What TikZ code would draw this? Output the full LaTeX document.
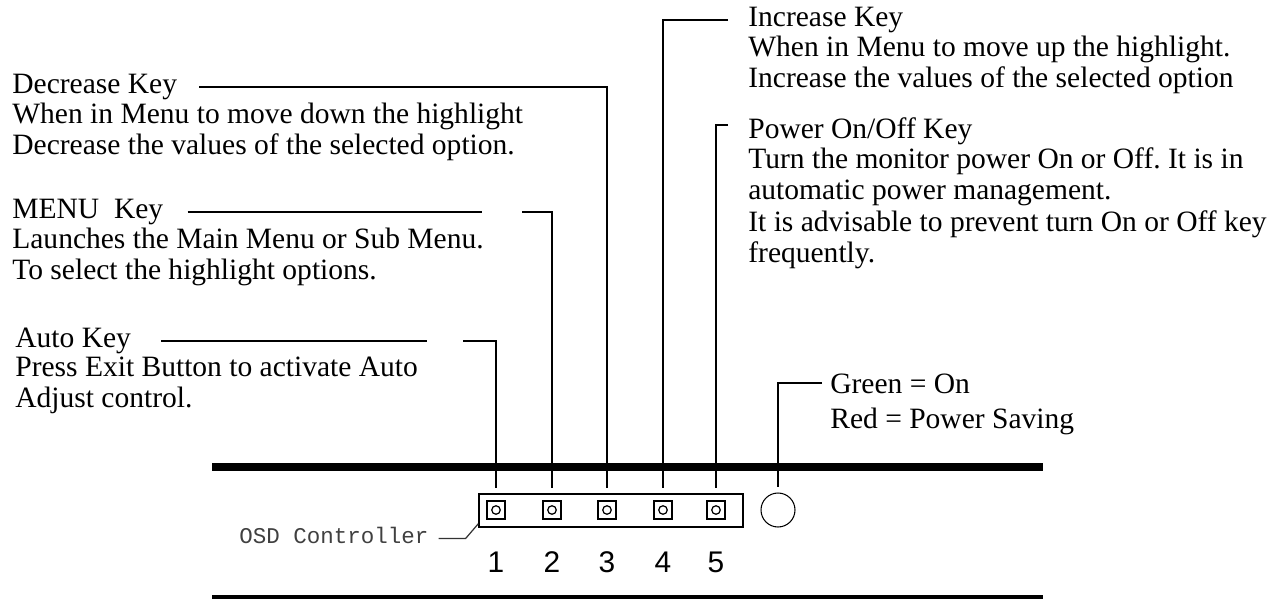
\documentclass[tikz,border=0pt]{standalone}
\usepackage{fontspec}
\setmainfont{Liberation Serif}
\newfontfamily\numfont{Liberation Sans}
\newfontfamily\osdfont{Liberation Mono}
\usetikzlibrary{positioning, calc}
\newcommand\keytext{\fontsize{16.8}{17.7}\selectfont\frenchspacing}

\begin{document}
\begin{tikzpicture}[
		x=0.02cm, y=-0.02cm,
		keytitle/.style={anchor=base west, inner sep=0pt, font=\keytext, execute at begin node=\strut},
		keydesc/.style={inner sep=0pt, align=left, font=\keytext, execute at begin node=\strut},
		keybtn/.style={rectangle, draw, line width=1.1pt, minimum size=0.35cm, inner sep=0pt},
		keydot/.style={circle, draw, line width=0.7pt, minimum size=0.17cm, inner sep=0pt},
		keynum/.style={inner sep=0pt, font=\numfont\fontsize{17}{19}\selectfont},
		osdlabel/.style={anchor=base west, inner sep=0pt, text=black!75, font=\osdfont\fontsize{12.8}{15}\selectfont},
		lead/.style={line width=1pt},
		bar/.style={line width=4pt}
		]

		\useasboundingbox (0,0) rectangle (1279,599);

		% left column
		\node[keytitle] (dectitle) at (12,93) {Decrease Key};
		\node[keydesc, below right=0pt of dectitle.south west] (decdesc) {When in Menu to move down the highlight\\Decrease the values of the selected option.};

		\node[keytitle] (menutitle) at (12,218) {MENU\ \ Key};
		\node[keydesc, below right=0pt of menutitle.south west] (menudesc) {Launches the Main Menu or Sub Menu.\\To select the highlight options.};

		\node[keytitle] (autotitle) at (15,347) {Auto Key};
		\node[keydesc, below right=0pt of autotitle.south west] (autodesc) {Press Exit Button to activate Auto\\Adjust control.};

		% right column
		\node[keytitle] (inctitle) at (748,26) {Increase Key};
		\node[keydesc, below right=0pt of inctitle.south west] (incdesc) {When in Menu to move up the highlight.\\Increase the values of the selected option};

		\node[keytitle] (powtitle) at (748,138) {Power On/Off Key};
		\node[keydesc, below right=0pt of powtitle.south west] (powdesc) {Turn the monitor power On or Off. It is in\\automatic power management.\\It is advisable to prevent turn On or Off key\\frequently.};

		\node[keytitle] (grntitle) at (830,393) {Green = On};
		\node[keydesc, below right=0.07cm and 0pt of grntitle.south west] (reddesc) {Red = Power Saving};

		% bezel
		\draw[bar] (212,467) -- (1043,467);
		\draw[line width=2.5pt] (212,597) -- (1043,597);

		% controller
		\node[rectangle, draw, line width=0.9pt, minimum width=5.28cm, minimum height=0.66cm, inner sep=0pt] (osdbox) at (611,510.5) {};
		\foreach \i/\x in {1/496, 2/552, 3/607, 4/663, 5/716} {
			\node[keybtn] (b\i) at (\x,510) {};
			\node[keydot] (c\i) at (b\i) {};
			\coordinate (t\i) at (\x,488);
			\node[keynum] (n\i) at (\x,562) {\i};
		}
		\node[circle, draw, line width=0.6pt, minimum size=0.68cm, inner sep=0pt] (led) at (778,510) {};
		\coordinate (tl) at (778,487);

		\node[osdlabel] (osd) at (239,543) {OSD Controller};

		% leaders
		\draw[lead] (dectitle.east) ++(22,0) -| (t3);
		\draw[lead] (menutitle.east) ++(24,0) -- ($(menutitle.east -| t2)+(-70,0)$) ++(40,0) -| (t2);
		\draw[lead] (autotitle.east) ++(30,0) -- ($(autotitle.east -| t1)+(-69,0)$) ++(36,0) -| (t1);
		\draw[lead] (inctitle.west) ++(-20,0) -| (t4);
		\draw[lead] ([yshift=4pt]powtitle.west) ++(-20,0) -| (t5);
		\draw[lead] ([yshift=2pt]grntitle.west) ++(-8,0) -| (tl);
		\draw[line width=0.7pt, black!80] ([yshift=-2pt]osd.east) ++(10,0) -- ++(27,0) -- ([yshift=0.08cm]osdbox.south west);
	\end{tikzpicture}
\end{document}
